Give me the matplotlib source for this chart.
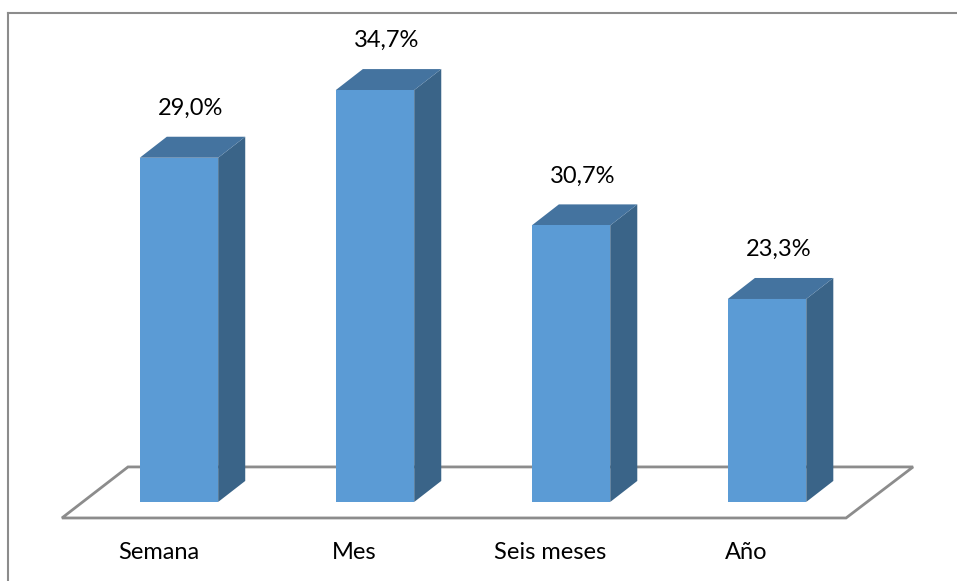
import matplotlib
matplotlib.use('Agg')
import matplotlib.pyplot as plt
from matplotlib.patches import Polygon
import numpy as np

# data
categories = ['Semana', 'Mes', 'Seis meses', 'Año']
bar_heights = [29.0, 34.7, 23.3, 17.1]
value_labels = ['29,0%', '34,7%', '30,7%', '23,3%']

plt.rcParams['font.family'] = ['Lato', 'DejaVu Sans']

# colours of the 3D faces
front_col = '#5B9BD5'
top_col = '#44739F'
side_col = '#3A6488'
floor_col = '#8C8C8C'

fig = plt.figure(figsize=(9.57, 5.81), dpi=100)
ax = fig.add_axes([0, 0, 1, 1])
ax.set_xlim(-0.913, 3.969)
ax.set_ylim(-6.66, 42.29)
ax.axis('off')

#Floor of the 3D chart
floor = Polygon([(-0.597, -1.35), (3.403, -1.35), (3.745, 2.95), (-0.260, 2.95)],
                closed=True, facecolor='white', edgecolor=floor_col, lw=2, zorder=1)
ax.add_patch(floor)

# bar geometry in data units
width = 0.4
dx = 0.138
dy = 1.77

x = np.arange(len(categories))
for i in range(len(categories)):
    h = bar_heights[i]
    l = x[i] - width/2
    r = x[i] + width/2
    front = Polygon([(l, 0), (r, 0), (r, h), (l, h)], closed=True,
                    facecolor=front_col, edgecolor='none', zorder=3)
    top = Polygon([(l, h), (r, h), (r+dx, h+dy), (l+dx, h+dy)], closed=True,
                  facecolor=top_col, edgecolor='none', zorder=3)
    side = Polygon([(r, 0), (r+dx, dy), (r+dx, h+dy), (r, h)], closed=True,
                   facecolor=side_col, edgecolor='none', zorder=3)
    ax.add_patch(side)
    ax.add_patch(top)
    ax.add_patch(front)
    # value label above the bar
    ax.text(x[i] + 0.06, h + dy + 1.5, value_labels[i], ha='center', va='bottom',
            fontsize=17, color='black', zorder=4)
    # category label under the floor
    ax.text(x[i] - 0.105, -4.3, categories[i], ha='center', va='center',
            fontsize=17, color='black', zorder=4)

#chart border (only top and left visible)
fig.add_artist(plt.Line2D([8/957, 8/957], [0, 1 - 13/581], color='#8C8C8C', lw=1.5))
fig.add_artist(plt.Line2D([8/957, 1], [1 - 13/581, 1 - 13/581], color='#8C8C8C', lw=1.5))

fig.savefig('out.png', dpi=100)
